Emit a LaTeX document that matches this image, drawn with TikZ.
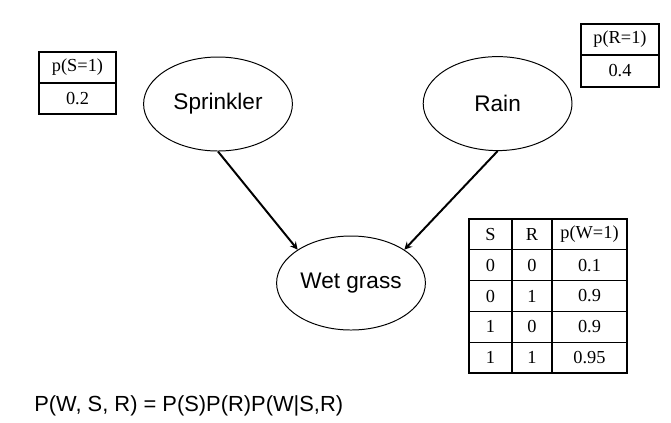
\documentclass[tikz,border=0pt]{standalone}
\usepackage{fontspec}
\setmainfont{Liberation Serif}
\setsansfont{Liberation Sans}
\usetikzlibrary{shapes.geometric}
\tikzset{every picture/.style={/utils/exec={\sffamily}}}

\begin{document}
\begin{tikzpicture}[
		var/.style={draw, ellipse, line width=0.7pt, inner sep=0pt,
			minimum width=3.72cm, minimum height=2.35cm,
			font=\sffamily\fontsize{16bp}{19bp}\selectfont},
		cell/.style={inner sep=0pt, font=\rmfamily\fontsize{13bp}{15bp}\selectfont},
		tab/.style={line width=0.9pt}]
		\useasboundingbox (0,0) rectangle (16.775,-10.55);

		\node[var] (sprinkler) at (5.45, -2.6) {Sprinkler};
		\node[var] (rain) at (12.44, -2.59) {Rain};
		\node[var] (wet) at (8.775, -7.075) {Wet grass};

		\draw[-stealth, line width=1.4pt] (sprinkler.south) -> (wet.148);
		\draw[-stealth, line width=1.4pt] (rain.south) -> (wet.32);

		% p(S=1)
		\draw[tab] (0.975, -1.3) rectangle (2.9, -2.85);
		\draw[tab] (0.975, -2.075) -- (2.9, -2.075);
		\node[cell] (ps) at (1.9375, -1.6875) {p(S=1)};
		\node[cell] (psval) at (1.9375, -2.4625) {0.2};

		% p(R=1)
		\draw[tab] (14.525, -0.6) rectangle (16.475, -2.175);
		\draw[tab] (14.525, -1.375) -- (16.475, -1.375);
		\node[cell] (pr) at (15.5, -0.9875) {p(R=1)};
		\node[cell] (prval) at (15.5, -1.775) {0.4};

		% p(W=1|S,R)
		\draw[tab] (11.725, -5.475) rectangle (15.675, -9.325);
		\draw[tab] (12.8, -5.475) -- (12.8, -9.325);
		\draw[tab] (13.8, -5.475) -- (13.8, -9.325);
		\draw[tab] (11.725, -6.245) -- (15.675, -6.245);
		\draw[tab] (11.725, -7.015) -- (15.675, -7.015);
		\draw[tab] (11.725, -7.785) -- (15.675, -7.785);
		\draw[tab] (11.725, -8.555) -- (15.675, -8.555);

		\node[cell] (hs) at (12.2625, -5.86) {S};
		\node[cell] (hr) at (13.3, -5.86) {R};
		\node[cell] (hw) at (14.7375, -5.86) {p(W=1)};

		\node[cell] (s1) at (12.2625, -6.63) {0};
		\node[cell] (r1) at (13.3, -6.63) {0};
		\node[cell] (w1) at (14.7375, -6.63) {0.1};

		\node[cell] (s2) at (12.2625, -7.40) {0};
		\node[cell] (r2) at (13.3, -7.40) {1};
		\node[cell] (w2) at (14.7375, -7.40) {0.9};

		\node[cell] (s3) at (12.2625, -8.17) {1};
		\node[cell] (r3) at (13.3, -8.17) {0};
		\node[cell] (w3) at (14.7375, -8.17) {0.9};

		\node[cell] (s4) at (12.2625, -8.94) {1};
		\node[cell] (r4) at (13.3, -8.94) {1};
		\node[cell] (w4) at (14.7375, -8.94) {0.95};

		\node[anchor=west, inner sep=0pt, font=\sffamily\fontsize{15.5bp}{18bp}\selectfont]
			(joint) at (0.85, -10.15) {P(W, S, R) = P(S)P(R)P(W|S,R)};
	\end{tikzpicture}
\end{document}
